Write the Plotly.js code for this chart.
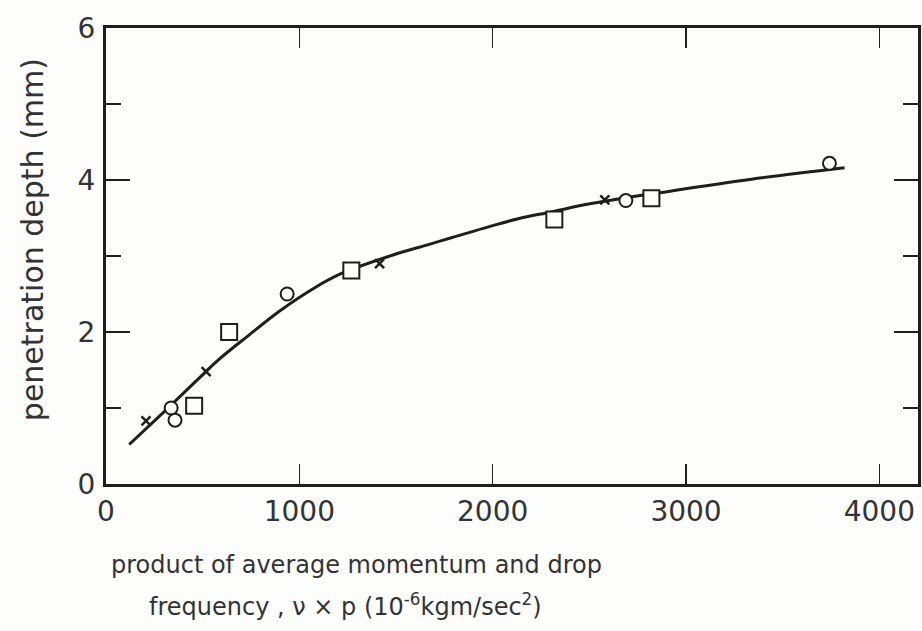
<!DOCTYPE html>
<html>
<head>
<meta charset="utf-8">
<script src="https://cdn.plot.ly/plotly-3.0.1.min.js"></script>
<style>html,body{margin:0;padding:0;background:#fdfdfb;}#chart{width:922px;height:631px;}</style>
</head>
<body>
<div id="chart"></div>
<script>
// fitted curve
const curveX = [120, 300, 456, 580, 735, 900, 1078, 1218, 1492, 1668, 1786, 2000, 2132, 2303, 2510, 2909, 3339, 3820];
const curveY = [0.52, 0.95, 1.33, 1.63, 1.95, 2.28, 2.58, 2.77, 3.02, 3.15, 3.24, 3.4, 3.49, 3.58, 3.69, 3.85, 4.01, 4.16];
// circles
const circleX = [337, 357, 937, 2689, 3742];
const circleY = [1.0, 0.84, 2.5, 3.73, 4.22];
// squares
const squareX = [456, 637, 1269, 2319, 2821];
const squareY = [1.03, 2.0, 2.81, 3.48, 3.76];
// crosses
const crossX = [207, 518, 1415, 2580];
const crossY = [0.83, 1.48, 2.9, 3.74];

const ink = '#1e1e1e';
const txt = '#333';
const font = 'DejaVu Sans, sans-serif';

const traces = [
  {x: curveX, y: curveY, mode: 'lines', line: {color: ink, width: 3, shape: 'spline', smoothing: 1}, hoverinfo: 'skip'},
  {x: circleX, y: circleY, mode: 'markers', marker: {symbol: 'circle', size: 13, color: '#fdfdfb', line: {color: ink, width: 2}}},
  {x: squareX, y: squareY, mode: 'markers', marker: {symbol: 'square', size: 16, color: '#fdfdfb', line: {color: ink, width: 2}}},
  {x: crossX, y: crossY, mode: 'markers', marker: {symbol: 'x-thin', size: 9, color: ink, line: {color: ink, width: 2.5}}}
];

const layout = {
  width: 922, height: 631,
  margin: {l: 106, r: 4, t: 28, b: 147},
  paper_bgcolor: '#fdfdfb', plot_bgcolor: '#fdfdfb',
  showlegend: false,
  font: {family: font, color: ink},
  xaxis: {
    range: [0, 4200], tickvals: [0, 1000, 2000, 3000, 4000],
    ticks: 'inside', ticklen: 20, tickwidth: 1.5, tickcolor: ink,
    showline: true, linewidth: 3, linecolor: ink, mirror: 'allticks',
    showgrid: false, zeroline: false,
    tickfont: {size: 28, family: font, color: txt}
  },
  yaxis: {
    range: [0, 6], tickvals: [0, 2, 4, 6],
    ticks: 'inside', ticklen: 24, tickwidth: 1.5, tickcolor: ink,
    minor: {tickvals: [1, 3, 5], ticks: 'inside', ticklen: 15, tickwidth: 1.5, tickcolor: ink},
    showline: true, linewidth: 3, linecolor: ink, mirror: 'allticks',
    showgrid: false, zeroline: false,
    tickfont: {size: 28, family: font, color: txt},
    ticklabelstandoff: 2
  },
  annotations: [
    {xref: 'paper', yref: 'paper', x: -0.091, y: 0.535, xanchor: 'center', yanchor: 'middle',
     textangle: -90, showarrow: false,
     text: 'penetration depth (mm)', font: {size: 30, family: font, color: txt}},
    {xref: 'paper', yref: 'paper', x: 0.309, y: -0.178, xanchor: 'center', yanchor: 'middle',
     showarrow: false,
     text: 'product of average momentum and drop', font: {size: 24, family: font, color: txt}},
    {xref: 'paper', yref: 'paper', x: 0.295, y: -0.265, xanchor: 'center', yanchor: 'middle',
     showarrow: false,
     text: 'frequency , ν × p (10<sup>-6</sup>kgm/sec<sup>2</sup>)', font: {size: 24, family: font, color: txt}}
  ]
};

Plotly.newPlot('chart', traces, layout, {displayModeBar: false, staticPlot: true});
</script>
</body>
</html>
